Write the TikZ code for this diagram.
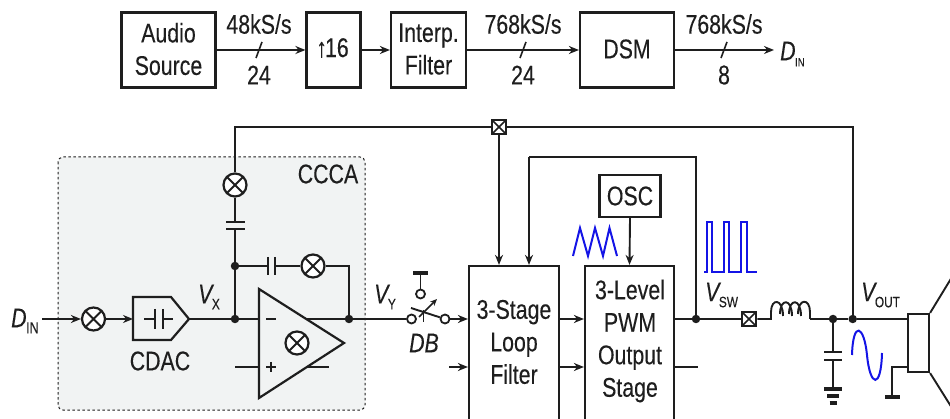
\documentclass[tikz,border=0pt]{standalone}
\usepackage{fontspec}
\setmainfont[FakeStretch=0.79,FakeBold=0.2]{Liberation Sans}
\usetikzlibrary{arrows.meta,calc}
\definecolor{ink}{HTML}{1E1E1E}
\definecolor{wave}{HTML}{1414E6}
\definecolor{panel}{HTML}{F1F3F3}
\newcommand{\Sig}[2]{{\itshape #1}\kern-0.5pt\raisebox{-6pt}{\fontsize{15}{15}\selectfont #2}}
\tikzset{
 wire/.style={draw=ink,line width=1.9pt},
 thin wire/.style={draw=ink,line width=1.6pt},
 arrowed/.style={wire,-{Stealth[length=10pt,width=8pt]}},
 blockbox/.style={draw=ink,line width=2.2pt,fill=white,inner sep=0pt,rectangle},
 lbl/.style={text=ink,font=\fontsize{27}{32.5}\selectfont,inner sep=0pt,align=center},
 mult/.style={circle,draw=ink,line width=2.2pt,fill=white,minimum size=23pt,inner sep=0pt,
   path picture={\draw[ink,line width=2pt]
     ([shift={(3.5pt,3.5pt)}]path picture bounding box.south west)--([shift={(-3.5pt,-3.5pt)}]path picture bounding box.north east)
     ([shift={(3.5pt,-3.5pt)}]path picture bounding box.north west)--([shift={(-3.5pt,3.5pt)}]path picture bounding box.south east);}},
 xbox/.style={rectangle,draw=ink,line width=2.2pt,fill=white,minimum size=14.5pt,inner sep=0pt,
   path picture={\draw[ink,line width=1.5pt]
     (path picture bounding box.south west)--(path picture bounding box.north east)
     (path picture bounding box.north west)--(path picture bounding box.south east);}},
 dotn/.style={circle,fill=ink,minimum size=8.5pt,inner sep=0pt},
 term/.style={circle,draw=ink,fill=white,line width=1.8pt,minimum size=9pt,inner sep=0pt},
 wavepath/.style={draw=wave,line width=2pt},
}
\begin{document}
\begin{tikzpicture}[x=1pt,y=-1pt]
\useasboundingbox (0,0) rectangle (950,419);
\clip (0,0) rectangle (950,419);
% panel
\draw[ink,line width=1pt,dash pattern=on 2.5pt off 2.5pt,fill=panel,rounded corners=5pt] (58,157) rectangle (365,410);
% top row
\node[blockbox,minimum width=94pt,minimum height=75pt] (audio) at (168.5,50) {};
\node[lbl] (audiot) at (168.5,49) {Audio\\Source};
\node[blockbox,minimum width=54pt,minimum height=75pt] (up) at (333.5,50) {};
\node[lbl] (upt) at (333.5,48) {{\fontsize{27}{27}\selectfont\kern-2pt\char"2191\kern-2pt}16};
\node[blockbox,minimum width=75pt,minimum height=75pt] (interp) at (428.5,50) {};
\node[lbl] (interpt) at (428.5,49) {Interp.\\Filter};
\node[blockbox,minimum width=94pt,minimum height=75pt] (dsm) at (627,50) {};
\node[lbl] (dsmt) at (627,49) {DSM};
\node[lbl,anchor=west] (din1) at (780,54) {\Sig{D}{\fontsize{12}{12}\selectfont IN}};
\coordinate (dinEnd) at (774,50);
\draw[arrowed] (audio.east) -- (up.west);
\draw[arrowed] (up.east) -- (interp.west);
\draw[arrowed] (interp.east) -- (dsm.west);
\draw[arrowed] (dsm.east) -- (dinEnd);
\foreach \x/\a/\b/\n in {259/48kS\slash s/24/a,523/768kS\slash s/24/b,724/768kS\slash s/8/c}{
  \node[lbl] (r\n) at (\x,24) {\a};
  \node[lbl] (w\n) at (\x,75) {\b};
  \draw[thin wire] (\x-3,58) -- (\x+3,42);
}
% left chain
\node[lbl,anchor=west] (din) at (11,321) {\Sig{D}{\fontsize{16}{16}\selectfont IN}};
\coordinate (dinS) at (42,319);
\node[mult] (m1) at (93.5,319) {};
\draw[arrowed] (dinS) -- (m1.west);
\node[draw=ink,line width=2pt,fill=panel,inner sep=0pt,minimum size=0pt] (cdacA) at (133,319) {};
\coordinate (cdacOut) at (189,319);
\draw[ink,line width=2.2pt,fill=panel,line join=miter] (133,297) -- (171,297) -- (cdacOut) -- (171,340) -- (133,340) -- cycle;
\draw[arrowed] (m1.east) -- (cdacA.center);
\coordinate (cL) at (144,319); \coordinate (cR) at (173,319);
\coordinate (cp1) at (155,319); \coordinate (cp2) at (163,319);
\draw[thin wire] (cL) -- (cp1) (cp2) -- (cR);
\draw[wire,line width=2.2pt] (155,309) -- (155,329) (163,309) -- (163,329);
\node[lbl] (cdac) at (160,361) {CDAC};
\node[lbl] (vx) at (209,297) {\Sig{V}{X}};
\node[lbl] (ccca) at (328,174) {CCCA};
% op-amp
\coordinate (opT) at (259,289); \coordinate (opB) at (259,398); \coordinate (opO) at (344,343);
\node[dotn] (d1) at (235,319) {};
\node[dotn] (d2) at (235,266) {};
\node[dotn] (d3) at (349,319) {};
\coordinate (pin) at (235,367);
\coordinate (lowOut) at (329,367);
\draw[wire] (cdacOut) -- (d1) -- (259,319);
\draw[wire] (306,319) -- (d3);
\draw[wire] (pin) -- (259,367);
\draw[wire] (306,367) -- (lowOut);
\draw[ink,line width=2.2pt,fill=panel] (opT) -- (opO) -- (opB) -- cycle;
\draw[thin wire,line width=1.4pt] (266,319) -- (276,319) (266,367) -- (276,367) (271,362) -- (271,372);
\node[mult] (m2) at (297,343) {};
% vertical
\node[mult] (m3) at (235,185) {};
\coordinate (c1t) at (235,222); \coordinate (c1b) at (235,229);
\draw[wire] (m3) -- (c1t) (c1b) -- (d2) -- (d1);
\draw[wire] (226,222) -- (245,222) (226,229) -- (245,229);
\coordinate (c2l) at (268,266); \coordinate (c2r) at (275,266);
\node[mult] (m4) at (313,266) {};
\draw[wire] (d2) -- (c2l) (c2r) -- (m4);
\draw[wire] (268,257) -- (268,275) (275,257) -- (275,275);
\draw[wire] (m4) -| (d3);
% Vy and switch
\node[lbl] (vy) at (385,297) {\Sig{V}{Y}};
\node[term] (s1) at (411.5,319) {};
\node[term] (s2) at (445,319) {};
\node[term] (s3) at (420.5,294) {};
\coordinate (tee) at (420.5,273);
\draw[wire] (d3) -- (s1);
\draw[wire] (s3) -- (tee);
\draw[ink,line width=3.5pt] (413,273) -- (428,273);
\draw[wire] (411,308) -- (s2);
\draw[wire] (423.5,310) -- (423.5,322);
\draw[draw=ink,line width=1.5pt,-{Stealth[length=7pt,width=6pt]}] (419,317) -- (437,299);
\node[lbl] (db) at (424,343) {\itshape DB};
% blocks
\node[blockbox,minimum width=90pt,minimum height=180pt] (loop) at (514,356) {};
\node[lbl] (loopt) at (514,342) {3-Stage\\Loop\\Filter};
\node[blockbox,minimum width=89pt,minimum height=180pt] (pwm) at (629.5,356) {};
\node[lbl] (pwmt) at (630,341) {3-Level\\PWM\\Output\\Stage};
\node[blockbox,minimum width=61pt,minimum height=42pt] (osc) at (630,196) {};
\node[lbl] (osct) at (630,196) {OSC};
\draw[arrowed] (osc.south) -- (pwm.north);
\draw[arrowed] (s2) -- (s2-|loop.west);
\coordinate (in2) at (449,367);
\draw[arrowed] (in2) -- (in2-|loop.west);
\coordinate (l1) at (559,319); \coordinate (l2) at (559,367);
\draw[arrowed] (l1) -- (l1-|pwm.west);
\draw[arrowed] (l2) -- (l2-|pwm.west);
\coordinate (p1) at (674,319);
\coordinate (p2) at (674,367); \coordinate (p2e) at (698,367);
\draw[wire] (p2) -- (p2e);
% feedback
\node[dotn] (dsw) at (696,319) {};
\node[dotn] (dout) at (852.7,319) {};
\node[dotn] (dcap) at (833,319) {};
\node[xbox] (xb1) at (499,127) {};
\node[xbox] (xb2) at (749,319) {};
\coordinate (lt) at (529,157); \coordinate (rt) at (696,157);
\draw[arrowed] (lt) -- (lt|-loop.north);
\draw[wire] (lt) -- (rt) -- (dsw);
\draw[arrowed] (xb1.south) -- (xb1|-loop.north);
\coordinate (tl) at (235,127); \coordinate (tr) at (852.7,127);
\draw[wire] (m3) -- (tl) -- (xb1.west);
\draw[wire] (xb1.east) -- (tr) -- (dout);
\node[lbl,anchor=west] (vswt) at (705,295) {\Sig{V}{\fontsize{15}{15}\selectfont SW}};
\node[lbl,anchor=west] (voutt) at (861,295) {\Sig{V}{\fontsize{15}{15}\selectfont OUT}};
\draw[wire] (p1) -- (dsw) -- (xb2.west);
% inductor
\coordinate (ind1) at (771,319); \coordinate (ind2) at (810,319);
\draw[wire] (xb2.east) -- (ind1) -- (771,312)
  .. controls (771,298) and (783,298) .. (783,316)
  (780,314) .. controls (780,298) and (792,298) .. (792,316)
  (789,314) .. controls (789,298) and (801,298) .. (801,316)
  (798,314) .. controls (798,298) and (810,298) .. (810,312) -- (ind2);
\draw[wire] (ind2) -- (dcap) -- (dout) -- (908,319);
% output cap and ground
\coordinate (ct) at (833,352); \coordinate (cb) at (833,360); \coordinate (gnd) at (833,389);
\draw[wire] (dcap) -- (ct) (cb) -- (gnd);
\draw[wire] (824,352) -- (842,352) (824,360) -- (842,360);
\draw[ink,line width=3.2pt] (824,389) -- (842,389) (827,396) -- (839,396);
\draw[ink,line width=3.2pt] (829.5,403) -- (836.5,403);
% speaker
\node[draw=ink,line width=2.2pt,minimum width=21pt,minimum height=58pt,inner sep=0pt] (spk) at (918.5,343) {};
\coordinate (cu) at (952,277); \coordinate (cd) at (952,408);
\draw[wire] (spk.north east) -- (cu) (spk.south east) -- (cd);
\coordinate (sg) at (908,367); \coordinate (sg1) at (892,367); \coordinate (sg2) at (892,397);
\draw[wire] (sg) -- (sg1) -- (sg2);
\draw[ink,line width=3.2pt] (885,397) -- (900,397);
% waves
\draw[wavepath,line join=miter] (573,256) -- (580,228) -- (588,256) -- (595,228) -- (603,256) -- (609.5,228) -- (617,256);
\draw[wavepath] (704,272) -- (706.5,272) -- (706.5,222) -- (712,222) -- (712,272) -- (723.5,272) -- (723.5,222) -- (729,222) -- (729,272) -- (741,272) -- (741,222) -- (747,222) -- (747,272) -- (757,272);
\draw[wavepath] (852,355) .. controls (853,320) and (864,325) .. (867,355) .. controls (870,387) and (881,390) .. (882,353);
\end{tikzpicture}
\end{document}
